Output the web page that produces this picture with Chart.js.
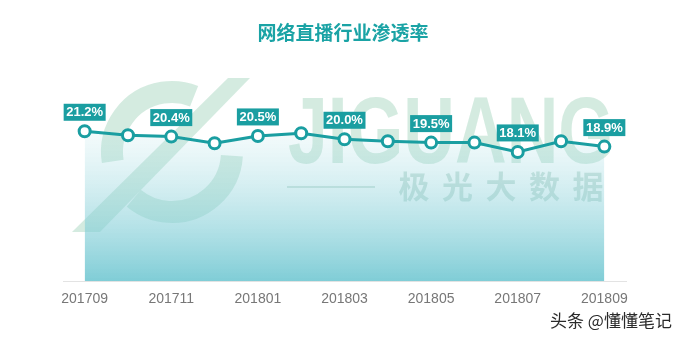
<!DOCTYPE html>
<html>
<head>
<meta charset="utf-8">
<script src="https://cdn.jsdelivr.net/npm/chart.js@4.4.0/dist/chart.umd.min.js"></script>
<style>
  html, body { margin: 0; padding: 0; background: #fff; }
</style>
</head>
<body>
<canvas id="myChart" width="687" height="340"></canvas>
<script>
// data
const months = ['201709', '201710', '201711', '201712', '201801', '201802', '201803',
                '201804', '201805', '201806', '201807', '201808', '201809'];
const penetration = [21.2, 20.6, 20.4, 19.4, 20.5, 20.9, 20.0, 19.7, 19.5, 19.5, 18.1, 19.7, 18.9];
const labelledPoints = [0, 2, 4, 6, 8, 10, 12];
const chartTitle = '网络直播行业渗透率';
const watermarkWord = 'JIGUANG';
const watermarkChars = ['极', '光', '大', '数', '据'];
const cornerNote = '头条 @懂懂笔记';

const teal = '#1a9ea1';

// light watermark behind the line
const watermarkPlugin = {
  id: 'watermark',
  beforeDatasetsDraw(chart) {
    const c = chart.ctx;
    c.save();
    c.fillStyle = 'rgba(205,232,218,0.85)';
    c.strokeStyle = 'rgba(205,232,218,0.85)';
    // logo: two arcs and a slash
    c.lineWidth = 22;
    c.beginPath();
    c.arc(172, 152, 60, Math.PI * 0.95, Math.PI * 1.62);
    c.stroke();
    c.beginPath();
    c.arc(172, 152, 60, Math.PI * 0.02, Math.PI * 0.72);
    c.stroke();
    c.beginPath();
    c.moveTo(72, 232);
    c.lineTo(100, 232);
    c.lineTo(250, 78);
    c.lineTo(228, 78);
    c.closePath();
    c.fill();
    // word
    c.font = 'bold 94px "Liberation Sans", Arial, sans-serif';
    c.textBaseline = 'alphabetic';
    c.textAlign = 'left';
    c.fillText(watermarkWord, 288, 163, 326);
    // rule and chinese name
    c.lineWidth = 1.5;
    c.strokeStyle = 'rgba(190,215,205,0.9)';
    c.beginPath();
    c.moveTo(287, 187);
    c.lineTo(375, 187);
    c.stroke();
    c.fillStyle = 'rgba(200,222,214,0.9)';
    c.font = 'bold 31px "Noto Sans CJK SC", sans-serif';
    c.textAlign = 'center';
    c.textBaseline = 'middle';
    watermarkChars.forEach((ch, i) => c.fillText(ch, 414 + i * 43.5, 186));
    c.restore();
  }
};

// value boxes, title and corner note
const labelsPlugin = {
  id: 'valueBoxes',
  afterDraw(chart) {
    const c = chart.ctx;
    const meta = chart.getDatasetMeta(0);
    c.save();
    c.textAlign = 'center';
    c.textBaseline = 'middle';
    c.font = 'bold 13px "Liberation Sans", Arial, sans-serif';
    labelledPoints.forEach(i => {
      const pt = meta.data[i];
      const cy = pt.y - 19;
      c.fillStyle = teal;
      c.fillRect(pt.x - 21, cy - 8.5, 42, 17);
      c.fillStyle = '#ffffff';
      c.fillText(penetration[i].toFixed(1) + '%', pt.x, cy + 0.5, 37);
    });

    c.fillStyle = '#1aa3a5';
    c.font = 'bold 19px "Noto Sans CJK SC", sans-serif';
    c.fillText(chartTitle, 343, 33);

    c.font = '17px "Noto Sans CJK SC", sans-serif';
    c.textAlign = 'left';
    c.lineWidth = 3;
    c.strokeStyle = '#ffffff';
    c.strokeText(cornerNote, 550, 321);
    c.fillStyle = '#2a2a2a';
    c.fillText(cornerNote, 550, 321);
    c.restore();
  }
};

const ctx = document.getElementById('myChart').getContext('2d');
const myChart = new Chart(ctx, {
  type: 'line',
  data: {
    labels: months,
    datasets: [{
      data: penetration,
      borderColor: teal,
      borderWidth: 3,
      pointRadius: 5.5,
      pointBorderWidth: 3,
      pointBackgroundColor: '#ffffff',
      pointBorderColor: teal,
      tension: 0,
      fill: 'start',
      backgroundColor: (context) => {
        const area = context.chart.chartArea;
        if (!area) return 'rgba(120,200,210,0.5)';
        const g = context.chart.ctx.createLinearGradient(0, 135, 0, area.bottom);
        g.addColorStop(0, 'rgba(170,222,228,0.15)');
        g.addColorStop(1, 'rgba(105,196,207,0.85)');
        return g;
      }
    }]
  },
  options: {
    responsive: false,
    animation: false,
    layout: { padding: { top: 60, left: 63, right: 61, bottom: 30 } },
    plugins: {
      legend: { display: false },
      tooltip: { enabled: false }
    },
    scales: {
      x: {
        offset: true,
        grid: { display: false },
        border: { display: true, color: '#e3e3e3', width: 1 },
        ticks: {
          autoSkip: false,
          maxRotation: 0,
          padding: 2,
          color: '#777777',
          font: { size: 14, family: '"Liberation Sans", Arial, sans-serif' },
          callback: (value, index) => (index % 2 === 0 ? months[index] : '')
        }
      },
      y: {
        display: false,
        min: -1.29,
        max: 31.89
      }
    }
  },
  plugins: [watermarkPlugin, labelsPlugin]
});
</script>
</body>
</html>
